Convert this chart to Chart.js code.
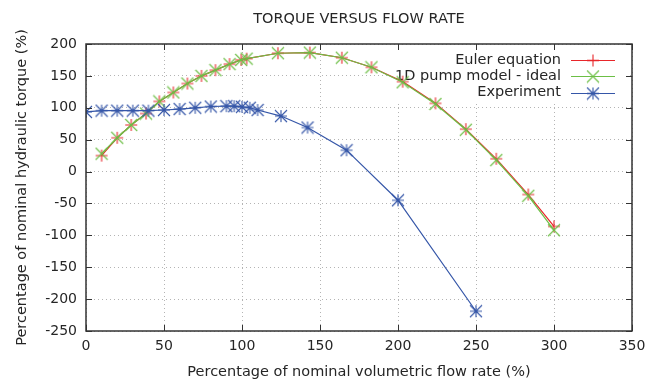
<!DOCTYPE html>
<html>
<head>
<meta charset="utf-8">
<script src="https://cdn.jsdelivr.net/npm/chart.js@4.4.0/dist/chart.umd.min.js"></script>
<style>
  body { margin: 0; background: #fff; }
</style>
</head>
<body>
<canvas id="torque-chart" width="662" height="383"></canvas>
<script>
// flow rate (% of nominal) for the model curves
const flowModel = [10, 20, 29, 38.5, 47, 56, 65, 74, 83, 92, 99.5, 103, 123, 143.5, 164, 183, 203, 224, 243.5, 263, 283.5, 300]
const torqueEuler = [25, 53, 73, 91, 110, 124, 138, 150, 159, 168.5, 175, 177, 185.5, 186.5, 178.5, 163.5, 141, 107, 66.5, 20, -36, -86]
const torqueIdeal = [28, 53, 73, 91, 110, 124, 138, 150, 159, 168.5, 175, 177, 185.5, 186.5, 178.5, 163.5, 140, 106, 65.5, 18, -38, -92]

// measured
const flowExp = [0, 10, 20, 30, 40, 50, 60, 70, 80, 90, 95, 100, 105, 110, 125, 142, 167, 200, 250]
const torqueExp = [93.5, 95.5, 95.5, 95.5, 95.5, 96.5, 98, 100, 102, 102.5, 102.5, 101.5, 100, 96.5, 87, 69, 33.5, -45, -219]

const xTicks = [0, 50, 100, 150, 200, 250, 300, 350]
const yTicks = [-250, -200, -150, -100, -50, 0, 50, 100, 150, 200]

const pts = (xs, ys) => xs.map((x, i) => ({ x: x, y: ys[i] }))

// gnuplot-like markers: + , x and * all fit the same square
function marker(color, kind) {
  const h = 6, c = document.createElement("canvas")
  c.width = c.height = 2 * h + 2
  const g = c.getContext("2d")
  const m = h + 1
  g.strokeStyle = color
  g.lineWidth = 1.1
  g.beginPath()
  if (kind !== "x") {
    g.moveTo(m - h, m); g.lineTo(m + h, m)
    g.moveTo(m, m - h); g.lineTo(m, m + h)
  }
  if (kind !== "+") {
    g.moveTo(m - h, m - h); g.lineTo(m + h, m + h)
    g.moveTo(m + h, m - h); g.lineTo(m - h, m + h)
  }
  g.stroke()
  return c
}

const series = [
  { label: "Euler equation", color: "#e8262a", kind: "+", order: 3, data: pts(flowModel, torqueEuler) },
  { label: "1D pump model - ideal", color: "#6cbf45", kind: "x", order: 2, data: pts(flowModel, torqueIdeal) },
  { label: "Experiment", color: "#3556a8", kind: "*", order: 1, data: pts(flowExp, torqueExp) }
]
series.forEach(s => { s.img = marker(s.color, s.kind) })

Chart.defaults.font.family = "'DejaVu Sans', sans-serif"
Chart.defaults.color = "#262626"

// frame, inward ticks, title and the boxed legend
const framePlugin = {
  id: "frame",
  beforeDatasetsDraw(chart) {
    const ctx = chart.ctx
    const a = chart.chartArea
    ctx.save()
    ctx.fillStyle = "#fff"
    ctx.fillRect(388, 48, a.right - 388 - 2, 53)
    ctx.font = "14.5px 'DejaVu Sans'"
    ctx.textAlign = "right"
    ctx.textBaseline = "middle"
    series.forEach((s, i) => {
      const y = 60 + i * 16.3
      ctx.fillStyle = "#262626"
      ctx.fillText(s.label, 561, y)
      ctx.strokeStyle = s.color
      ctx.lineWidth = 1.2
      ctx.beginPath()
      ctx.moveTo(571, Math.round(y) + 0.5)
      ctx.lineTo(615, Math.round(y) + 0.5)
      ctx.stroke()
      ctx.drawImage(s.img, 593 - s.img.width / 2, Math.round(y) + 0.5 - s.img.height / 2)
    })
    ctx.restore()
  },
  afterDraw(chart) {
    const ctx = chart.ctx
    const a = chart.chartArea
    const xs = chart.scales.x
    const ys = chart.scales.y
    ctx.save()
    ctx.strokeStyle = "#333"
    ctx.lineWidth = 1
    ctx.beginPath()
    xTicks.forEach(v => {
      const px = Math.round(xs.getPixelForValue(v)) + 0.5
      ctx.moveTo(px, a.bottom); ctx.lineTo(px, a.bottom - 6)
      ctx.moveTo(px, a.top); ctx.lineTo(px, a.top + 6)
    })
    yTicks.forEach(v => {
      const py = Math.round(ys.getPixelForValue(v)) + 0.5
      ctx.moveTo(a.left, py); ctx.lineTo(a.left + 6, py)
      ctx.moveTo(a.right, py); ctx.lineTo(a.right - 6, py)
    })
    ctx.stroke()
    ctx.lineWidth = 1.5
    ctx.strokeRect(a.left, a.top, a.right - a.left, a.bottom - a.top)
    ctx.fillStyle = "#262626"
    ctx.font = "14.5px 'DejaVu Sans'"
    ctx.textAlign = "center"
    ctx.textBaseline = "middle"
    ctx.fillText("TORQUE VERSUS FLOW RATE", (a.left + a.right) / 2, 19)
    ctx.restore()
  }
}

new Chart(document.getElementById("torque-chart"), {
  type: "scatter",
  data: {
    datasets: series.map(s => ({
      label: s.label,
      data: s.data,
      order: s.order,
      showLine: true,
      borderColor: s.color,
      backgroundColor: s.color,
      borderWidth: 1.2,
      pointStyle: s.img,
      pointRadius: 6,
      pointHoverRadius: 6
    }))
  },
  options: {
    responsive: false,
    animation: false,
    devicePixelRatio: 1,
    layout: { padding: { top: 44, right: 30, left: 0, bottom: 0 } },
    plugins: {
      legend: { display: false },
      tooltip: { enabled: false }
    },
    scales: {
      x: {
        type: "linear",
        min: 0,
        max: 350,
        afterBuildTicks: s => { s.ticks = xTicks.map(v => ({ value: v })) },
        afterFit: s => { s.height = 52 },
        ticks: { font: { size: 14 }, padding: 7, maxRotation: 0 },
        grid: { color: "#b4b4b4", drawTicks: false },
        border: { display: false, dash: [1, 3] },
        title: {
          display: true,
          text: "Percentage of nominal volumetric flow rate (%)",
          font: { size: 14.5 },
          padding: { top: 2, bottom: 2 }
        }
      },
      y: {
        type: "linear",
        min: -250,
        max: 200,
        afterBuildTicks: s => { s.ticks = yTicks.map(v => ({ value: v })) },
        afterFit: s => { s.width = 86 },
        ticks: { font: { size: 14 }, padding: 9 },
        grid: { color: "#b4b4b4", drawTicks: false },
        border: { display: false, dash: [1, 3] },
        title: {
          display: true,
          text: "Percentage of nominal hydraulic torque (%)",
          font: { size: 14.5 },
          padding: { top: 14, bottom: 14 }
        }
      }
    }
  },
  plugins: [framePlugin]
})
</script>
</body>
</html>
